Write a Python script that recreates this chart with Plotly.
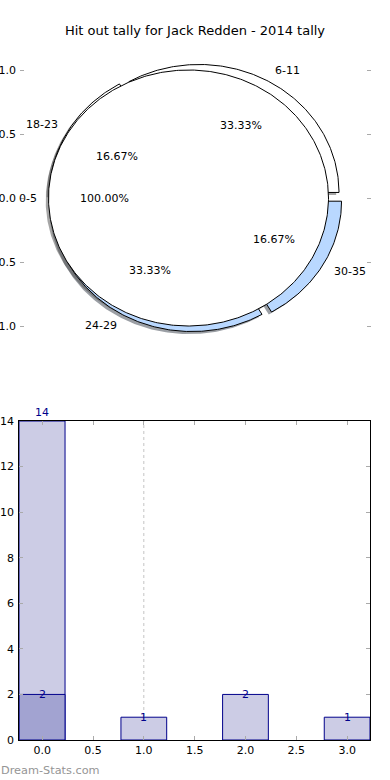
import numpy as np
import plotly.graph_objects as go

# ---------------- data ----------------
TITLE = "Hit out tally for Jack Redden - 2014 tally"
WATERMARK = "Dream-Stats.com"

base_labels = ["0-5"]
base_values = [6]
base_colors = ["#ffffff"]

ring_labels = ["6-11", "18-23", "24-29", "30-35"]
ring_values = [2, 1, 2, 1]
ring_colors = ["#ffffff", "#ffffff", "#b9d8ff", "#b9d8ff"]

pie_explode = 0.05
pie_yticks = [-1.0, -0.5, 0.0, 0.5, 1.0]

bar_x = [0, 1, 2, 3]
bar_totals = [14, 1, 2, 1]
bar_sub_x = [0]
bar_sub = [2]
bar_xticks = [0.0, 0.5, 1.0, 1.5, 2.0, 2.5, 3.0]
bar_yticks = [0, 2, 4, 6, 8, 10, 12, 14]
marker_x = [1.0]

# ---------------- layout constants ----------------
W, H = 390, 780
FONT = "DejaVu Sans"
NAVY = "#00008b"
TICKGRAY = "#aaaaaa"


def wedges(values, explode):
    total = float(sum(values))
    out = []
    t = 0.0
    for v in values:
        t1 = t
        t2 = t + 360.0 * v / total
        mid = np.deg2rad((t1 + t2) / 2.0)
        cx = explode * np.cos(mid)
        cy = explode * np.sin(mid)
        out.append((t1, t2, mid, cx, cy, 100.0 * v / total))
        t = t2
    return out


def wedge_xy(t1, t2, cx, cy, r=1.0):
    n = max(8, int(abs(t2 - t1) * 1.5))
    th = np.deg2rad(np.linspace(t1, t2, n))
    xs = cx + r * np.cos(th)
    ys = cy + r * np.sin(th)
    if abs(t2 - t1) >= 359.999:
        return list(xs), list(ys)
    return [cx] + list(xs) + [cx], [cy] + list(ys) + [cy]


def darker(hexc, f=0.3):
    h = hexc.lstrip("#")
    r, g, b = (int(h[i:i + 2], 16) for i in (0, 2, 4))
    return f"rgba({int(r*f)},{int(g*f)},{int(b*f)},0.5)"


fig = go.Figure()

ring_w = wedges(ring_values, pie_explode)
base_w = wedges(base_values, pie_explode)

# shadows (under everything)
for (t1, t2, mid, cx, cy, pct), col in list(zip(ring_w, ring_colors)) + list(zip(base_w, base_colors)):
    xs, ys = wedge_xy(t1, t2, cx - 0.02, cy - 0.02)
    fig.add_trace(go.Scatter(x=xs, y=ys, mode="lines", fill="toself",
                             fillcolor=darker(col), line=dict(width=0),
                             xaxis="x", yaxis="y", hoverinfo="skip", showlegend=False))

# ring wedges
for (t1, t2, mid, cx, cy, pct), col in zip(ring_w, ring_colors):
    xs, ys = wedge_xy(t1, t2, cx, cy)
    fig.add_trace(go.Scatter(x=xs, y=ys, mode="lines", fill="toself",
                             fillcolor=col, line=dict(color="black", width=1),
                             xaxis="x", yaxis="y", hoverinfo="skip", showlegend=False))
# base wedge on top
for (t1, t2, mid, cx, cy, pct), col in zip(base_w, base_colors):
    xs, ys = wedge_xy(t1, t2, cx, cy)
    fig.add_trace(go.Scatter(x=xs, y=ys, mode="lines", fill="toself",
                             fillcolor=col, line=dict(color="black", width=1),
                             xaxis="x", yaxis="y", hoverinfo="skip", showlegend=False))

annotations = []
for lab_list, wl in ((ring_labels, ring_w), (base_labels, base_w)):
    for lab, (t1, t2, mid, cx, cy, pct) in zip(lab_list, wl):
        lx = cx + 1.1 * np.cos(mid)
        ly = cy + 1.1 * np.sin(mid)
        right_side = lx > 0
        annotations.append(dict(x=lx, y=ly, xref="x", yref="y", text=lab, showarrow=False,
                                xanchor="left" if right_side else "right", yanchor="middle",
                                xshift=-1 if right_side else 2,
                                borderpad=0, borderwidth=0,
                                font=dict(family=FONT, size=11, color="black")))
        px = cx + 0.6 * np.cos(mid)
        py = cy + 0.6 * np.sin(mid)
        annotations.append(dict(x=px, y=py, xref="x", yref="y", text=f"{pct:.2f}%", showarrow=False,
                                xanchor="center", yanchor="middle", borderpad=0, borderwidth=0,
                                font=dict(family=FONT, size=11, color="black")))

# ---------------- bar chart ----------------
fig.add_trace(go.Bar(x=bar_x, y=bar_totals, width=0.45, marker=dict(color="#cccce5", line=dict(color=NAVY, width=1)),
                     xaxis="x2", yaxis="y2", showlegend=False, hoverinfo="skip"))
fig.add_trace(go.Bar(x=bar_sub_x, y=bar_sub, width=0.45, marker=dict(color="#a2a3d1", line=dict(color=NAVY, width=1)),
                     xaxis="x2", yaxis="y2", showlegend=False, hoverinfo="skip"))

ymax = max(bar_yticks)
for xv, yv in list(zip(bar_x, bar_totals)) + list(zip(bar_sub_x, bar_sub)):
    annotations.append(dict(x=xv, y=yv, xref="x2", yref="y2", text=str(yv), showarrow=False,
                            xanchor="center", yanchor="bottom" if yv >= ymax else "middle",
                            font=dict(family=FONT, size=11, color=NAVY)))

for mx in marker_x:
    fig.add_shape(type="line", xref="x2", yref="y2 domain", x0=mx, x1=mx, y0=0, y1=1,
                  line=dict(color="#c4c4c4", width=1, dash="dot"), layer="below")

annotations.append(dict(x=0, y=0, xref="paper", yref="paper", xanchor="left", yanchor="bottom",
                        yshift=2, text=WATERMARK, showarrow=False, borderpad=0,
                        font=dict(family=FONT, size=11.3, color="#959595")))

# pie axes geometry
PIE_L, PIE_R, PIE_T, PIE_B = 20, 371, 38, 358
PX_X = 140.0
XHALF = (PIE_R - PIE_L) / 2.0 / PX_X
BAR_L, BAR_R, BAR_T, BAR_B = 19.3, 370, 421, 740

fig.update_layout(
    width=W, height=H, autosize=False,
    margin=dict(l=0, r=0, t=0, b=0),
    paper_bgcolor="white", plot_bgcolor="rgba(0,0,0,0)",
    barmode="overlay",
    title=dict(text=TITLE, x=0.5, xanchor="center", y=1 - 30 / H, yanchor="middle",
               font=dict(family=FONT, size=13, color="black")),
    font=dict(family=FONT, size=11, color="black"),
    annotations=annotations,
    xaxis=dict(domain=[PIE_L / W, PIE_R / W], anchor="y",
               range=[-XHALF, XHALF],
               visible=False, fixedrange=True),
    yaxis=dict(domain=[1 - PIE_B / H, 1 - PIE_T / H], anchor="x", range=[-1.25, 1.25],
               tickvals=pie_yticks, ticktext=[f"{v:.1f}" for v in pie_yticks],
               ticks="inside", ticklen=4, tickcolor=TICKGRAY, showline=False, mirror="ticks",
               ticklabelstandoff=3,
               showgrid=False, zeroline=False, automargin=False,
               tickfont=dict(family=FONT, size=11, color="black")),
    xaxis2=dict(domain=[BAR_L / W, BAR_R / W], anchor="y2", range=[-0.225, 3.225],
                tickvals=bar_xticks, ticktext=[f"{v:.1f}" for v in bar_xticks],
                ticks="inside", ticklen=4, tickcolor=TICKGRAY, showline=True, linecolor="black",
                linewidth=1, mirror="ticks", showgrid=False, zeroline=False, automargin=False,
                tickfont=dict(family=FONT, size=11, color="black")),
    yaxis2=dict(domain=[1 - BAR_B / H, 1 - BAR_T / H], anchor="x2", range=[0, 14],
                tickvals=bar_yticks, ticks="inside", ticklen=4, tickcolor=TICKGRAY,
                showline=True, linecolor="black", linewidth=1, mirror="ticks",
                ticklabelstandoff=2,
                showgrid=False, zeroline=False, automargin=False,
                tickfont=dict(family=FONT, size=11, color="black")),
)

fig.write_html("out.html")
